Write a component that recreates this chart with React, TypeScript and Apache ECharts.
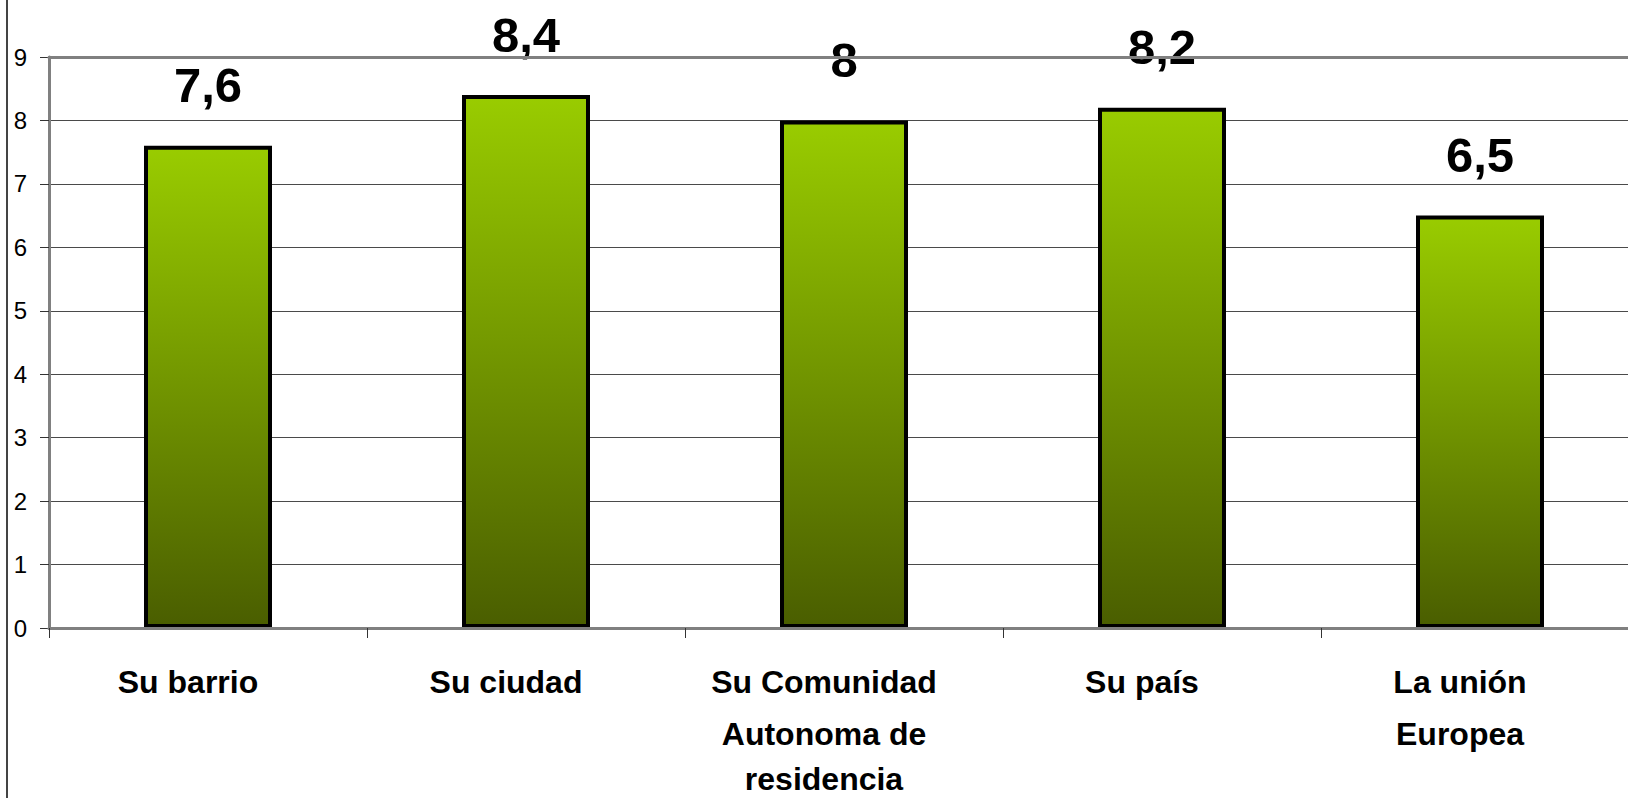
import React, { useEffect, useRef } from "react";
import * as echarts from "echarts";

const categories = [
  "Su barrio",
  "Su ciudad",
  "Su Comunidad\nAutonoma de\nresidencia",
  "Su país",
  "La unión\nEuropea",
];
const values = [7.6, 8.4, 8, 8.2, 6.5];
const yMin = 0;
const yMax = 9;
const yInterval = 1;

const FONT = "'Liberation Sans', Arial, Helvetica, sans-serif";

const catText = (lh: number) => ({
  color: "#000",
  fontFamily: FONT,
  fontWeight: "bold",
  fontSize: 32,
  lineHeight: lh,
  align: "center",
});

export default function App() {
  const ref = useRef<HTMLDivElement>(null);
  useEffect(() => {
    if (!ref.current) return;
    const chart = echarts.init(ref.current, null, { renderer: "svg" });
    chart.setOption({
      animation: false,
      backgroundColor: "#ffffff",
      grid: {
        left: 49,
        right: -11,
        top: 57,
        bottom: 170,
        containLabel: false,
        outerBoundsMode: "none",
      },
      xAxis: [
        {
          type: "category",
          data: categories,
          position: "bottom",
          axisLine: { show: true, lineStyle: { color: "#808080", width: 3 } },
          axisTick: { show: true, length: 10, lineStyle: { color: "#333", width: 1 } },
          axisLabel: {
            interval: 0,
            margin: 28,
            color: "#000",
            fontFamily: FONT,
            fontWeight: "bold",
            fontSize: 32,
            lineHeight: 52,
            align: "center",
            padding: [0, 40, 0, 0],
            formatter: (v: string) => {
              const lines = v.split("\n");
              if (lines.length === 3) {
                return `{t1|${lines[0]}}\n{t2|${lines[1]}}\n{t3|${lines[2]}}`;
              }
              return lines.map((l) => `{n|${l}}`).join("\n");
            },
            rich: {
              n: catText(52),
              t1: catText(52),
              t2: catText(52),
              t3: catText(37),
            },
          },
          z: 5,
        },
        {
          type: "category",
          data: categories,
          position: "top",
          axisLine: { show: true, lineStyle: { color: "#808080", width: 3 } },
          axisTick: { show: false },
          axisLabel: { show: false },
          z: 5,
        },
      ],
      yAxis: {
        type: "value",
        min: yMin,
        max: yMax,
        interval: yInterval,
        axisLine: { show: true, lineStyle: { color: "#808080", width: 3 } },
        axisTick: { show: true, length: 9, lineStyle: { color: "#333", width: 1 } },
        axisLabel: {
          margin: 22,
          color: "#000",
          fontFamily: FONT,
          fontSize: 24,
        },
        splitLine: { show: true, lineStyle: { color: "#4a4a4a", width: 1 } },
      },
      series: [
        {
          type: "bar",
          data: values,
          barWidth: 128,
          itemStyle: {
            color: new echarts.graphic.LinearGradient(0, 0, 0, 1, [
              { offset: 0, color: "#99cc00" },
              { offset: 1, color: "#4a5e00" },
            ]),
            borderColor: "#000",
            borderWidth: 4,
          },
          label: {
            show: true,
            position: "top",
            distance: 36,
            color: "#000",
            fontFamily: FONT,
            fontWeight: "bold",
            fontSize: 49,
            formatter: (p: any) => String(p.value).replace(".", ","),
          },
          z: 3,
        },
      ],
      graphic: [
        {
          type: "line",
          shape: { x1: 7, y1: 0, x2: 7, y2: 798 },
          style: { stroke: "#444", lineWidth: 2 },
        },
      ],
    });
    return () => chart.dispose();
  }, []);
  return (
    <div
      ref={ref}
      style={{ position: "fixed", left: 0, top: 0, width: 1628, height: 798, background: "#fff" }}
    />
  );
}
